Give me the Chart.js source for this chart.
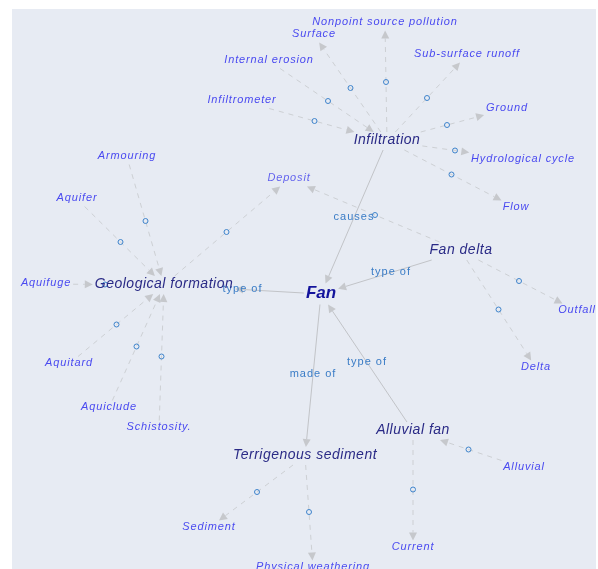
<!DOCTYPE html>
<html>
<head>
<meta charset="utf-8">
<script src="https://cdn.jsdelivr.net/npm/chart.js@4.4.0/dist/chart.umd.min.js"></script>
<style>
    html, body { margin: 0; padding: 0; background: #ffffff; }
    #wrap { width: 598px; height: 569px; }
</style>
</head>
<body>
<div id="wrap"><canvas id="graph"></canvas></div>
<script>
// Nodes of the concept map (level 0 = root, 1 = hub, 2 = leaf)
const nodeNames = ['Fan', 'Infiltration', 'Geological formation', 'Fan delta', 'Terrigenous sediment', 'Alluvial fan', 'Deposit',
    'Nonpoint source pollution', 'Surface', 'Sub-surface runoff', 'Internal erosion', 'Ground', 'Infiltrometer', 'Hydrological cycle', 'Flow',
    'Armouring', 'Aquifer', 'Aquifuge', 'Aquitard', 'Aquiclude', 'Schistosity.',
    'Outfall', 'Delta', 'Sediment', 'Physical weathering', 'Alluvial', 'Current'];
const nodeX = [321, 387, 164, 461, 305, 413, 289,
    385, 314, 467, 269, 507, 242, 523, 516,
    127, 77, 46, 69, 109, 159,
    577, 536, 209, 313, 524, 413];
const nodeY = [294, 141, 285, 251, 456, 431, 179,
    23, 35, 55, 61, 109, 101, 160, 208,
    157, 199, 284, 364, 408, 428,
    311, 368, 528, 568, 468, 548];
const nodeLevel = [0, 1, 1, 1, 1, 1, 2,
    2, 2, 2, 2, 2, 2, 2, 2,
    2, 2, 2, 2, 2, 2,
    2, 2, 2, 2, 2, 2];

// Relations: empty label = dashed link with a midpoint marker
const edgeFrom = ['Infiltration', 'Fan', 'Fan delta', 'Alluvial fan', 'Fan',
    'Infiltrometer', 'Internal erosion', 'Infiltration', 'Infiltration', 'Infiltration', 'Infiltration', 'Infiltration', 'Infiltration',
    'Armouring', 'Aquifer', 'Aquifuge', 'Aquitard', 'Aquiclude', 'Schistosity.', 'Geological formation',
    'Fan delta', 'Fan delta', 'Fan delta', 'Terrigenous sediment', 'Terrigenous sediment', 'Alluvial', 'Alluvial fan'];
const edgeTo = ['Fan', 'Geological formation', 'Fan', 'Fan', 'Terrigenous sediment',
    'Infiltration', 'Infiltration', 'Surface', 'Nonpoint source pollution', 'Sub-surface runoff', 'Ground', 'Hydrological cycle', 'Flow',
    'Geological formation', 'Geological formation', 'Geological formation', 'Geological formation', 'Geological formation', 'Geological formation', 'Deposit',
    'Deposit', 'Outfall', 'Delta', 'Sediment', 'Physical weathering', 'Alluvial fan', 'Current'];
const edgeLabels = ['causes', 'type of', 'type of', 'type of', 'made of',
    '', '', '', '', '', '', '', '',
    '', '', '', '', '', '', '',
    '', '', '', '', '', '', ''];

const nodeFonts = ['italic bold 17px "Liberation Sans"', 'italic 14px "Liberation Sans"', 'italic 11px "Liberation Sans"'];
const nodeFontSize = [17, 14, 11];
const nodeSpacing = ['0px', '0.5px', '0.85px'];
const nodeColors = ['#14149c', '#2a2a86', '#4a4af0'];

function idx(name) { return nodeNames.indexOf(name); }

const nodePoints = nodeNames.map(function(n, i) { return { x: nodeX[i], y: nodeY[i] }; });
const midPoints = [];
edgeLabels.forEach(function(lbl, i) {
    if (lbl === '') {
        const a = idx(edgeFrom[i]), b = idx(edgeTo[i]);
        midPoints.push({ x: (nodeX[a] + nodeX[b]) / 2, y: (nodeY[a] + nodeY[b]) / 2 });
    }
});

function labelBox(ctx, i) {
    const lvl = nodeLevel[i];
    ctx.font = nodeFonts[lvl];
    ctx.letterSpacing = nodeSpacing[lvl];
    const w = ctx.measureText(nodeNames[i]).width;
    return { hw: w / 2 + 2, hh: nodeFontSize[lvl] / 2 + 2 };
}

function trim(cx, cy, dx, dy, box) {
    const tx = Math.abs(dx) > 1e-6 ? box.hw / Math.abs(dx) : Infinity;
    const ty = Math.abs(dy) > 1e-6 ? box.hh / Math.abs(dy) : Infinity;
    const t = Math.min(tx, ty);
    return { x: cx + dx * t, y: cy + dy * t };
}

const graphPlugin = {
    id: 'graphDraw',
    beforeDraw: function(chart) {
        const ctx = chart.ctx, xs = chart.scales.x, ys = chart.scales.y;
        ctx.save();
        ctx.fillStyle = '#e7ebf3';
        const x0 = xs.getPixelForValue(12), y0 = ys.getPixelForValue(9);
        ctx.fillRect(x0, y0, xs.getPixelForValue(596) - x0, ys.getPixelForValue(569) - y0);
        ctx.restore();
    },
    beforeDatasetsDraw: function(chart) {
        const ctx = chart.ctx, xs = chart.scales.x, ys = chart.scales.y;
        ctx.save();
        edgeFrom.forEach(function(from, i) {
            const a = idx(from), b = idx(edgeTo[i]);
            const ax = xs.getPixelForValue(nodeX[a]), ay = ys.getPixelForValue(nodeY[a]);
            const bx = xs.getPixelForValue(nodeX[b]), by = ys.getPixelForValue(nodeY[b]);
            const len = Math.hypot(bx - ax, by - ay);
            const ux = (bx - ax) / len, uy = (by - ay) / len;
            const start = trim(ax, ay, ux, uy, labelBox(ctx, a));
            const tip = trim(bx, by, -ux, -uy, labelBox(ctx, b));
            const solid = edgeLabels[i] !== '';
            const al = 8, aw = 4;
            const baseX = tip.x - ux * al, baseY = tip.y - uy * al;

            ctx.beginPath();
            ctx.setLineDash(solid ? [] : [5, 5]);
            ctx.lineWidth = 1;
            ctx.strokeStyle = solid ? '#c2c4c8' : '#cdd0d4';
            ctx.moveTo(start.x, start.y);
            ctx.lineTo(baseX, baseY);
            ctx.stroke();

            ctx.setLineDash([]);
            ctx.beginPath();
            ctx.fillStyle = '#c6c8cc';
            ctx.moveTo(tip.x, tip.y);
            ctx.lineTo(baseX - uy * aw, baseY + ux * aw);
            ctx.lineTo(baseX + uy * aw, baseY - ux * aw);
            ctx.closePath();
            ctx.fill();
        });
        ctx.restore();
    },
    afterDatasetsDraw: function(chart) {
        const ctx = chart.ctx, xs = chart.scales.x, ys = chart.scales.y;
        ctx.save();
        ctx.textAlign = 'center';
        ctx.textBaseline = 'middle';

        // relation labels
        ctx.font = '11px "Liberation Sans"';
        ctx.letterSpacing = '1px';
        ctx.fillStyle = '#3a7cc6';
        edgeLabels.forEach(function(lbl, i) {
            if (!lbl) return;
            const a = idx(edgeFrom[i]), b = idx(edgeTo[i]);
            ctx.fillText(lbl, xs.getPixelForValue((nodeX[a] + nodeX[b]) / 2), ys.getPixelForValue((nodeY[a] + nodeY[b]) / 2 - 1));
        });

        // concept labels
        nodeNames.forEach(function(name, i) {
            const lvl = nodeLevel[i];
            ctx.font = nodeFonts[lvl];
            ctx.letterSpacing = nodeSpacing[lvl];
            ctx.fillStyle = name === 'Deposit' ? '#6464ee' : nodeColors[lvl];
            ctx.fillText(name, xs.getPixelForValue(nodeX[i]), ys.getPixelForValue(nodeY[i] - 1));
        });
        ctx.restore();
    }
};

new Chart(document.getElementById('graph'), {
    type: 'scatter',
    data: {
        datasets: [{
            label: 'Concepts',
            data: nodePoints,
            pointRadius: 0
        }, {
            label: 'Links',
            data: midPoints,
            pointRadius: 2.5,
            pointStyle: 'circle',
            borderWidth: 1,
            borderColor: '#3f84cc',
            backgroundColor: 'rgba(0,0,0,0)'
        }]
    },
    options: {
        responsive: true,
        maintainAspectRatio: false,
        animation: false,
        layout: { padding: 0, autoPadding: false },
        plugins: {
            legend: { display: false },
            tooltip: { enabled: false }
        },
        scales: {
            x: { type: 'linear', min: 0, max: 598, display: false },
            y: { type: 'linear', min: 0, max: 569, reverse: true, display: false }
        }
    },
    plugins: [graphPlugin]
});
</script>
</body>
</html>
